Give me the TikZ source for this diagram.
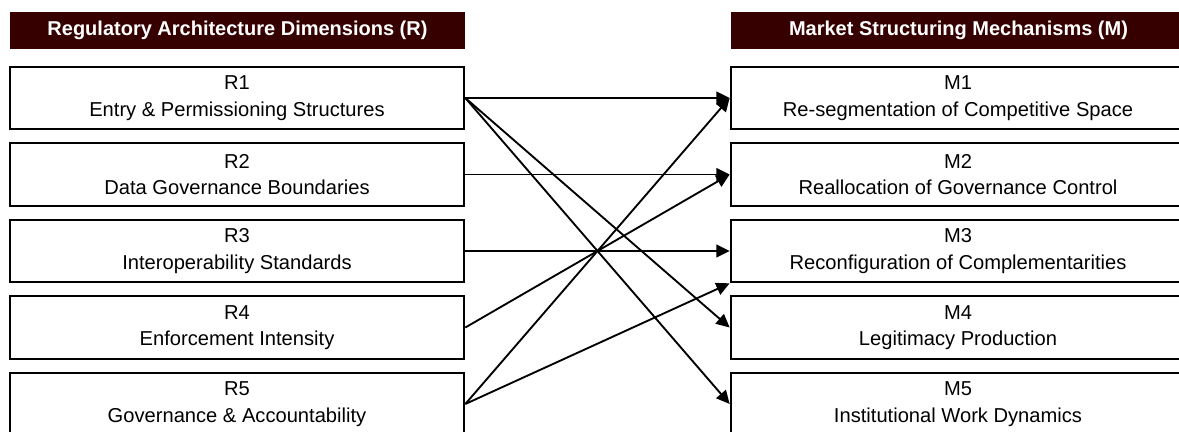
\documentclass[tikz,border=0pt]{standalone}
\usepackage{fontspec}
\setmainfont{Liberation Sans}
\usetikzlibrary{arrows.meta}

\definecolor{headred}{RGB}{55,0,0}

\tikzset{
	head/.style={fill=headred, text=white, minimum width=341pt, minimum height=28pt,
		inner sep=0pt, font=\fontsize{15}{18}\bfseries},
	dimbox/.style={draw, line width=1.5pt, minimum width=341pt, minimum height=47pt,
		inner sep=0pt, align=center, font=\fontsize{15.1}{19.8}\selectfont},
	link/.style={line width=1.4pt, -{Triangle[length=10pt,width=9.5pt]}}
}

\begin{document}
\begin{tikzpicture}[x=0.75pt,y=-0.75pt]
	\useasboundingbox (0,0) rectangle (1179,432);
	\node[head] (hR) at (237.5,30.5) {Regulatory Architecture Dimensions (R)};
	\node[head] (hM) at (958.5,30.5) {Market Structuring Mechanisms (M)};
	% left column
	\node[dimbox] (R1) at (237,98) {R1\\Entry \& Permissioning Structures};
	\node[dimbox] (R2) at (237,174.5) {R2\\Data Governance Boundaries};
	\node[dimbox] (R3) at (237,251) {R3\\Interoperability Standards};
	\node[dimbox] (R4) at (237,327.5) {R4\\Enforcement Intensity};
	\node[dimbox] (R5) at (237,404) {R5\\Governance \& Accountability};
	% right column
	\node[dimbox] (M1) at (958,98) {M1\\Re-segmentation of Competitive Space};
	\node[dimbox] (M2) at (958,174.5) {M2\\Reallocation of Governance Control};
	\node[dimbox] (M3) at (958,251) {M3\\Reconfiguration of Complementarities};
	\node[dimbox] (M4) at (958,327.5) {M4\\Legitimacy Production};
	\node[dimbox] (M5) at (958,404) {M5\\Institutional Work Dynamics};
	% links
	\draw[link] (R1.east) -- (M1.west);
	\draw[link] (R1.east) -- (M4.west);
	\draw[link] (R1.east) -- (M5.west);
	\draw[link] (R2.east) -- (M2.west);
	\draw[link] (R3.east) -- (M3.west);
	\draw[link] (R4.east) -- (M2.west);
	\draw[link] (R5.east) -- (M1.west);
	\draw[link] (R5.east) -- (M3.south west);
\end{tikzpicture}
\end{document}
